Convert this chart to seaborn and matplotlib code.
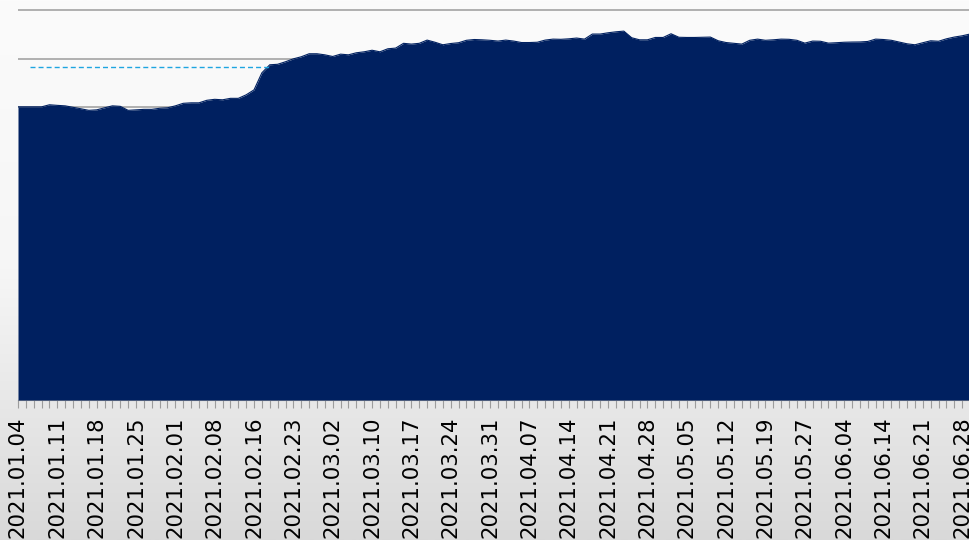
import numpy as np
import matplotlib
matplotlib.use("Agg")
import matplotlib.pyplot as plt
from matplotlib.colors import LinearSegmentedColormap
from matplotlib.ticker import FixedLocator
import seaborn as sns

# ---------------------------------------------
# Data
# ---------------------------------------------
tick_labels = ["2021.01.04", "2021.01.11", "2021.01.18", "2021.01.25", "2021.02.01",
               "2021.02.08", "2021.02.16", "2021.02.23", "2021.03.02", "2021.03.10",
               "2021.03.17", "2021.03.24", "2021.03.31", "2021.04.07", "2021.04.14",
               "2021.04.21", "2021.04.28", "2021.05.05", "2021.05.12", "2021.05.19",
               "2021.05.27", "2021.06.04", "2021.06.14", "2021.06.21", "2021.06.28"]

values = [3005, 3005, 3005, 3005, 3026, 3020, 3015, 3000, 2985, 2969,
          2974, 2995, 3015, 3010, 2969, 2974, 2979, 2979, 2990, 2995,
          3015, 3041, 3046, 3046, 3072, 3082, 3077, 3092, 3092, 3128,
          3179, 3354, 3436, 3441, 3467, 3497, 3518, 3549, 3549, 3538,
          3521, 3545, 3538, 3559, 3569, 3585, 3569, 3600, 3607, 3656,
          3648, 3656, 3689, 3667, 3641, 3654, 3662, 3687, 3695, 3692,
          3687, 3679, 3689, 3679, 3664, 3664, 3667, 3689, 3699, 3697,
          3702, 3710, 3699, 3751, 3751, 3764, 3774, 3781, 3713, 3692,
          3692, 3716, 3716, 3754, 3718, 3716, 3716, 3718, 3720, 3682,
          3664, 3656, 3648, 3687, 3699, 3687, 3692, 3699, 3697, 3687,
          3658, 3679, 3677, 3658, 3662, 3667, 3669, 3670, 3675, 3699,
          3695, 3687, 3669, 3651, 3641, 3662, 3682, 3677, 3702, 3720,
          3733, 3751]

grid_levels = [3000, 3500, 4000]   # only these show above the area
ref_level = 3415                   # dashed reference line
ref_span = (1.5, 32)               # index range of the reference line

navy = "#002060"
ref_color = "#1ea5e0"
grid_color = "#9c9c9c"

# ---------------------------------------------
# Figure
# ---------------------------------------------
sns.set_theme(style="white")
plt.rcParams["font.family"] = ["DejaVu Sans"]

fig = plt.figure(figsize=(9.7, 5.4), dpi=100)

# light gray vertical gradient behind everything
bg = fig.add_axes([0, 0, 1, 1], zorder=-5)
grad = np.linspace(0, 1, 256).reshape(-1, 1)
cmap = LinearSegmentedColormap.from_list("bg", ["#fbfbfb", "#f6f6f6", "#d9d9d9"])
bg.imshow(grad, aspect="auto", cmap=cmap, extent=[0, 1, 0, 1])
bg.axis("off")

ax = fig.add_axes([18 / 970, 140 / 540, 952 / 970, 400 / 540])
ax.set_facecolor("none")
ax.grid(False)

# gridlines behind the area
for lvl in grid_levels:
    ax.axhline(lvl, color=grid_color, linewidth=1.1, zorder=1)

x = np.arange(len(values))
ax.fill_between(x, values, 0, color=navy, linewidth=0, zorder=3)
sns.lineplot(x=x, y=values, color=navy, linewidth=0.8, ax=ax, zorder=4)

ax.hlines(ref_level, ref_span[0], ref_span[1], colors=ref_color,
          linestyles=(0, (3.6, 2.2)), linewidth=1.0, zorder=5)

ax.set_xlim(0, len(values) - 1)
ax.set_ylim(0, 4100)
ax.set_yticks([])

ax.xaxis.set_major_locator(FixedLocator(x[::5]))
ax.xaxis.set_minor_locator(FixedLocator(x))
ax.set_xticklabels(tick_labels, rotation=90, fontsize=15.3, va="top", ha="center",
                   color="black")
ax.tick_params(axis="x", which="both", direction="out", length=6, width=0.8,
               color=grid_color, bottom=True, pad=6)

for s in ["top", "right", "left"]:
    ax.spines[s].set_visible(False)
ax.spines["bottom"].set_color(grid_color)
ax.spines["bottom"].set_linewidth(0.8)

ax.set_xlabel("")
ax.set_ylabel("")

fig.savefig("out.png", dpi=100)
